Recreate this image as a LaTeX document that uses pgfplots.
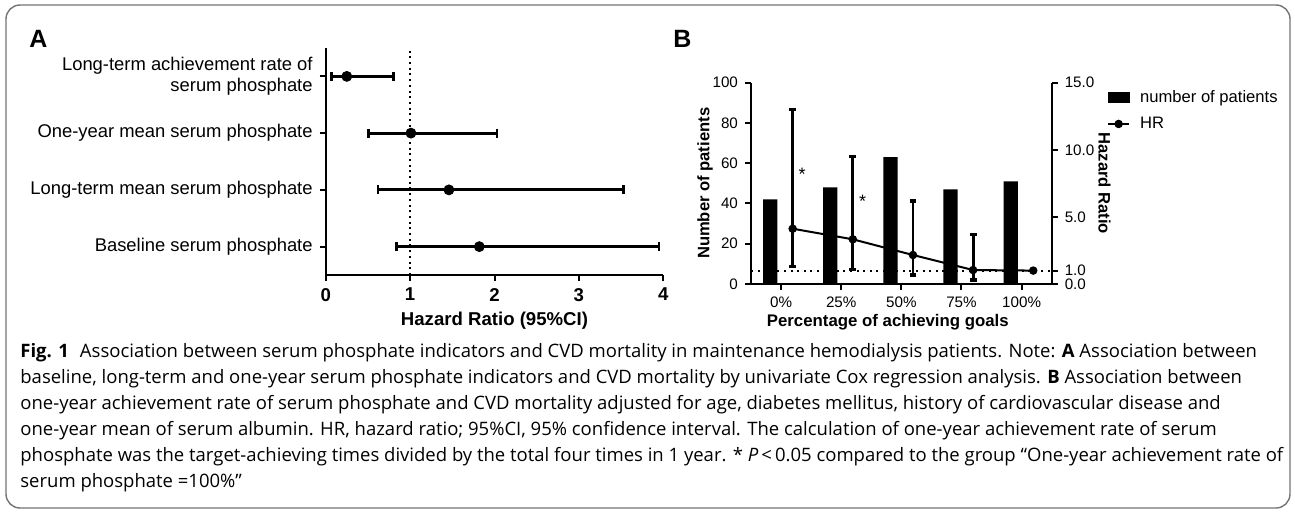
\documentclass[border=0pt]{standalone}
\usepackage{fontspec}
\setmainfont{Liberation Sans}
\newfontfamily\capfont{Open Sans}
\usepackage{pgfplots}
\pgfplotsset{compat=1.18}
\usepackage{pgfplotstable}

\pgfplotstableread{
y   x     ep    em
4   0.25  0.55  0.18
3   1.01  1.02  0.50
2   1.46  2.07  0.84
1   1.82  2.13  0.98
}\forestdata

\pgfplotstableread{
x  n
0  42
1  48
2  63
3  47
4  51
}\bardata

\pgfplotstableread{
x      hr    ep    em
0.193  4.12  8.88  2.83
1.193  3.33  6.17  2.24
2.193  2.16  4.02  1.47
3.193  1.04  2.66  0.74
4.193  1.00  0.00  0.00
}\hrdata

\begin{document}
\begin{tikzpicture}
\path[use as bounding box] (0,0) rectangle (647.5pt,-256.5pt);
\draw[black!55, line width=0.7pt, rounded corners=7pt] (3pt,-2.5pt) rectangle (645pt,-254pt);

% panel A: forest plot
\begin{axis}[
    at={(162.85pt,-137.5pt)}, anchor=south west,
    scale only axis, width=168.8pt, height=113.5pt,
    xmin=0, xmax=4, ymin=0.5, ymax=4.5,
    axis x line*=bottom, axis y line*=left,
    axis line style={line width=1pt},
    every tick/.style={black, line width=1pt},
    tick align=outside, major tick length=3pt,
    xtick={0,1,2,3,4},
    ytick={1,2,3,4},
    yticklabels={Baseline serum phosphate, Long-term mean serum phosphate, One-year mean serum phosphate, {Long-term achievement rate of\\serum phosphate}},
    yticklabel style={align=right, font=\fontsize{9.2}{10.5}\selectfont},
    xticklabel style={font=\bfseries\fontsize{9.3}{11}\selectfont},
    /pgf/number format/assume math mode=true,
    xlabel={Hazard Ratio (95\%CI)},
    xlabel style={font=\bfseries\fontsize{9.3}{11}\selectfont, at={(axis description cs:0.5,-0.2)}, anchor=center},
    clip=false,
]
\addplot[black, line width=1pt, dash pattern=on 1pt off 1.85pt] coordinates {(1,0.5) (1,4.5)};
\addplot[black, only marks, mark=*, mark size=2.5pt,
    error bars/.cd, x dir=both, x explicit,
    error bar style={line width=1.4pt, solid},
    error mark=|, error mark options={line width=1.4pt, mark size=2.2pt}]
    table[x=x, y=y, x error plus=ep, x error minus=em] {\forestdata};
\end{axis}

% panel B: bars (left axis)
\begin{axis}[
    at={(375.5pt,-142pt)}, anchor=south west,
    scale only axis, width=150.35pt, height=100.65pt,
    xmin=-0.5, xmax=4.5, ymin=0, ymax=100,
    axis x line*=bottom, axis y line*=left,
    axis line style={line width=1pt},
    every tick/.style={black, line width=1pt},
    tick align=outside, major tick length=3pt,
    xtick={0,1,2,3,4},
    xticklabels={0\%, 25\%, 50\%, 75\%, 100\%},
    ytick={0,20,40,60,80,100},
    tick label style={font=\fontsize{7.6}{9}\selectfont},
    /pgf/number format/assume math mode=true,
    xlabel={Percentage of achieving goals},
    xlabel style={font=\bfseries\fontsize{8.4}{10}\selectfont, at={(axis description cs:0.455,-0.19)}, anchor=center},
    ylabel={Number of patients},
    ylabel style={font=\bfseries\fontsize{8.3}{10}\selectfont, at={(axis description cs:-0.153,0.5)}, anchor=center, rotate=0},
    clip=false,
]
\addplot[ybar, fill=black, draw=none, bar width=7.15pt, bar shift=-5.45pt] table[x=x, y=n] {\bardata};
\node[font=\fontsize{9}{10}\selectfont] at (axis cs:0.35,54.5) {*};
\node[font=\fontsize{9}{10}\selectfont] at (axis cs:1.354,41.3) {*};
\end{axis}

% panel B: hazard ratios (right axis)
\begin{axis}[
    at={(375.5pt,-142pt)}, anchor=south west,
    scale only axis, width=150.35pt, height=100.65pt,
    xmin=-0.5, xmax=4.5, ymin=0, ymax=15,
    axis x line=none, axis y line*=right,
    axis line style={line width=1pt},
    every tick/.style={black, line width=1pt},
    tick align=outside, major tick length=3pt,
    ytick={0,1,5,10,15},
    yticklabels={0.0,1.0,5.0,10.0,15.0},
    tick label style={font=\fontsize{7.6}{9}\selectfont},
    ylabel={Hazard Ratio},
    ylabel style={font=\bfseries\fontsize{8.3}{10}\selectfont, at={(axis description cs:1.176,0.5)}, anchor=center, rotate=180},
    legend style={draw=none, fill=none, at={(axis description cs:1.183,0.985)}, anchor=north west,
        font=\fontsize{8.3}{10}\selectfont, row sep=1.8pt, inner sep=0pt,
        nodes={inner xsep=5pt}},
    legend cell align=left,
    clip=false,
]
\addplot[black, line width=1pt, dash pattern=on 1pt off 2.3pt, forget plot] coordinates {(-0.5,1) (4.5,1)};
\addlegendimage{legend image code/.code={\fill[black] (0pt,-2.4pt) rectangle (10.5pt,2.4pt);}}
\addlegendentry{number of patients}
\addplot[black, line width=1pt, mark=*, mark size=1.6pt,
    legend image code/.code={\draw[black, line width=1pt] (0pt,0pt) -- (10.5pt,0pt); \fill[black] (5.25pt,0pt) circle (1.6pt);},
    error bars/.cd, y dir=both, y explicit,
    error bar style={line width=1.4pt, solid},
    error mark=|, error mark options={line width=1.8pt, mark size=1.7pt}]
    table[x=x, y=hr, y error plus=ep, y error minus=em] {\hrdata};
\addlegendentry{HR}
\end{axis}

\begin{scope}[x=0.5pt, y=-0.5pt]
\node[anchor=base west, inner sep=0pt, font=\bfseries\fontsize{12.5}{14}\selectfont] at (29,48) {A};
\node[anchor=base west, inner sep=0pt, font=\bfseries\fontsize{12.5}{14}\selectfont] at (673,48) {B};
\begin{scope}[every node/.style={anchor=base west, inner sep=0pt, font=\capfont\fontsize{9.25}{10}\selectfont}]
\node at (20,357) {\textbf{Fig. 1}\hspace{0.6em}Association between serum phosphate indicators and CVD mortality in maintenance hemodialysis patients. Note: \textbf{A} Association between};
\node at (20,383) {baseline, long-term and one-year serum phosphate indicators and CVD mortality by univariate Cox regression analysis. \textbf{B} Association between};
\node at (20,409) {one-year achievement rate of serum phosphate and CVD mortality adjusted for age, diabetes mellitus, history of cardiovascular disease and};
\node at (20,435) {one-year mean of serum albumin. HR, hazard ratio; 95\%CI, 95\% confidence interval. The calculation of one-year achievement rate of serum};
\node at (20,461) {phosphate was the target-achieving times divided by the total four times in 1 year. * \textit{P}\,<\,0.05 compared to the group “One-year achievement rate of};
\node at (20,487) {serum phosphate =100\%”};
\end{scope}
\end{scope}
\end{tikzpicture}
\end{document}
